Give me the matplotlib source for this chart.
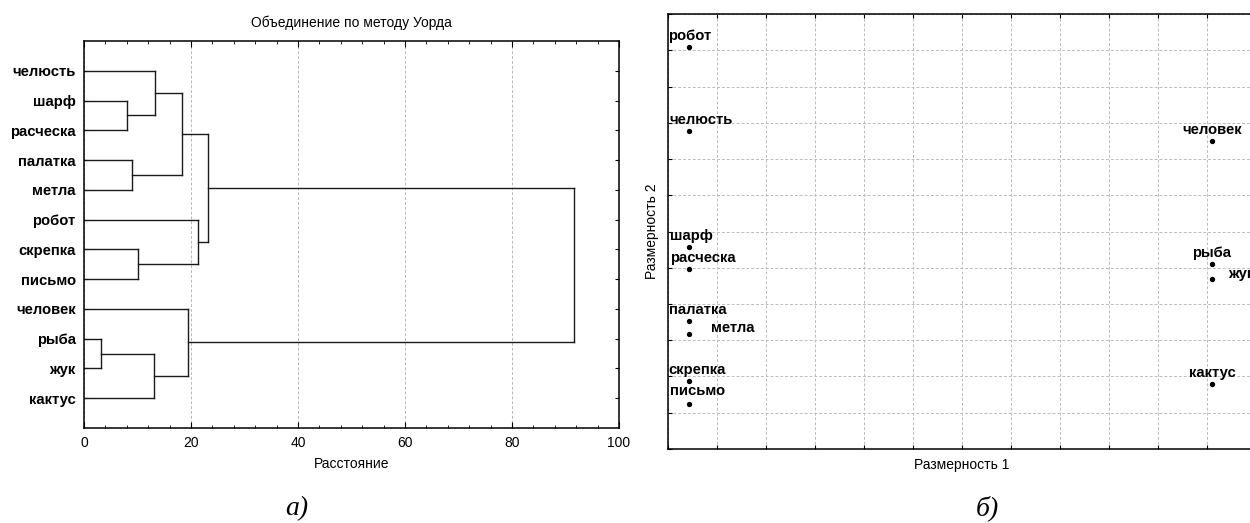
import matplotlib.pyplot as plt
from matplotlib.ticker import MultipleLocator, NullFormatter

plt.rcParams['font.family'] = ['Liberation Sans', 'DejaVu Sans']

# --- dendrogram (Ward) ---
leaves = ["челюсть", "шарф", "расческа", "палатка", "метла", "робот",
          "скрепка", "письмо", "человек", "рыба", "жук", "кактус"]
# merges: ids 0..11 are leaves, new clusters get ids 12, 13, ...
merge_left = [1, 0, 3, 13, 6, 5, 15, 9, 19, 8, 18]
merge_right = [2, 12, 4, 14, 7, 16, 17, 10, 11, 20, 21]
merge_height = [8.0, 13.3, 9.0, 18.4, 10.0, 21.4, 23.1, 3.1, 13.0, 19.5, 91.5]

# --- MDS plot ---
mds_labels = ["робот", "челюсть", "шарф", "расческа", "палатка", "метла",
              "скрепка", "письмо", "человек", "рыба", "жук", "кактус"]
dim1 = [0.43, 0.43, 0.43, 0.43, 0.43, 0.43, 0.43, 0.43, 11.1, 11.1, 11.1, 11.1]
dim2 = [11.08, 8.77, 5.56, 4.96, 3.53, 3.18, 1.88, 1.25, 8.50, 5.10, 4.68, 1.79]

# label placement (offset in points, horizontal alignment)
label_style = {
    "робот": (-15, 8, "left"), "челюсть": (-14, 8, "left"),
    "шарф": (-14, 8, "left"), "расческа": (-13.5, 8, "left"),
    "палатка": (-14.5, 8, "left"), "метла": (16, 4, "left"),
    "скрепка": (-15, 8, "left"), "письмо": (-13.5, 9, "left"),
    "человек": (0, 8, "center"), "рыба": (0, 8, "center"),
    "жук": (12, 4, "left"), "кактус": (0, 8, "center"),
}

fig = plt.figure(figsize=(12.5, 5.23), dpi=100)

# ---------- left: dendrogram ----------
ax1 = fig.add_axes([0.0672, 0.1816, 0.428, 0.740])
pos_y = {i: i + 1 for i in range(len(leaves))}
pos_x = {i: 0.0 for i in range(len(leaves))}
line_kw = dict(color="#1a1a1a", lw=1.0)
for k, (a, b, h) in enumerate(zip(merge_left, merge_right, merge_height)):
    cid = len(leaves) + k
    for c in (a, b):
        ax1.plot([pos_x[c], h], [pos_y[c], pos_y[c]], **line_kw)
    ax1.plot([h, h], [pos_y[a], pos_y[b]], **line_kw)
    pos_y[cid] = (pos_y[a] + pos_y[b]) / 2
    pos_x[cid] = h

ax1.set_xlim(0, 100)
ax1.set_ylim(len(leaves) + 1, 0)
ax1.xaxis.set_major_locator(MultipleLocator(20))
ax1.xaxis.set_minor_locator(MultipleLocator(4))
ax1.set_yticks(range(1, len(leaves) + 1))
ax1.set_yticklabels(leaves, fontsize=10.7, fontweight="bold")
ax1.tick_params(axis="both", which="both", direction="in", top=True, right=True)
ax1.tick_params(axis="x", which="major", length=4, labelsize=10, pad=6)
ax1.tick_params(axis="x", which="minor", length=2.5)
ax1.tick_params(axis="y", length=3, pad=6)
ax1.grid(axis="x", which="major", color="#b8b8b8", linestyle=(0, (3, 2)), lw=0.7)
for s in ax1.spines.values():
    s.set_linewidth(1.1)
ax1.set_title("Объединение по методу Уорда", fontsize=10, pad=10)
ax1.set_xlabel("Расстояние", fontsize=10, labelpad=5)
fig.text(0.237, 0.015, "а)", fontsize=20, style="italic",
         family=["Liberation Serif", "DejaVu Serif"], ha="center")

# ---------- right: MDS ----------
ax2 = fig.add_axes([0.5344, 0.1415, 0.4704, 0.8317])
ax2.scatter(dim1, dim2, s=8, color="black", zorder=3)
for name, x, y in zip(mds_labels, dim1, dim2):
    dx, dy, ha = label_style[name]
    ax2.annotate(name, (x, y), xytext=(dx, dy), textcoords="offset points",
                 ha=ha, va="center", fontsize=10.7, fontweight="bold",
                 annotation_clip=False, zorder=4)
ax2.set_xlim(0, 12)
ax2.set_ylim(0, 12)
ax2.xaxis.set_major_locator(MultipleLocator(1))
ax2.yaxis.set_major_locator(MultipleLocator(1))
ax2.xaxis.set_major_formatter(NullFormatter())
ax2.yaxis.set_major_formatter(NullFormatter())
ax2.tick_params(axis="both", direction="in", length=3, top=True, right=True)
ax2.grid(True, color="#bcbcbc", linestyle=(0, (3, 2)), lw=0.7)
ax2.set_axisbelow(True)
for s in ax2.spines.values():
    s.set_linewidth(1.1)
ax2.set_xlabel("Размерность 1", fontsize=10, labelpad=3)
ax2.set_ylabel("Размерность 2", fontsize=10, labelpad=3)
fig.text(0.79, 0.015, "б)", fontsize=20, style="italic",
         family=["Liberation Serif", "DejaVu Serif"], ha="center")

fig.savefig("out.png", dpi=100)
